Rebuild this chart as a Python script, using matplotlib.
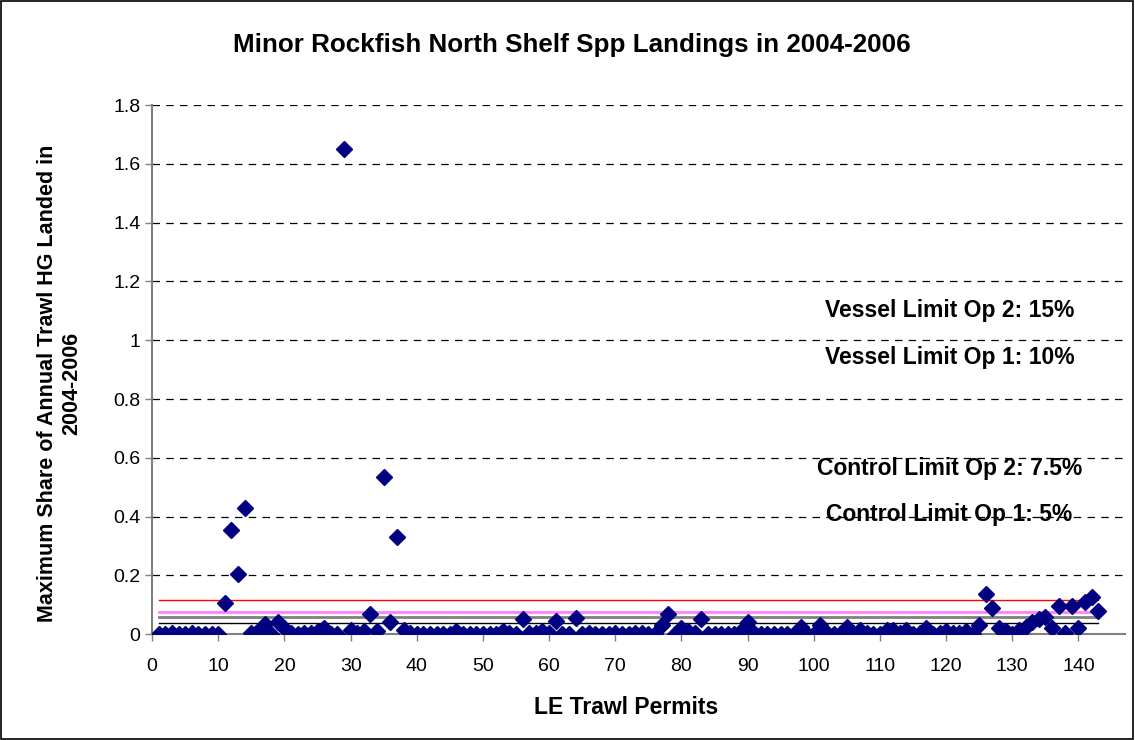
import numpy as np
import matplotlib
matplotlib.use('Agg')
import matplotlib.pyplot as plt
from matplotlib.patches import Rectangle

plt.rcParams['font.family'] = ['Liberation Sans', 'DejaVu Sans']

# Max share of annual trawl HG landed, permit 1..143
share = [0, 0, 0.005, 0, 0, 0.005, 0, 0, 0, 0,
         0.105, 0.355, 0.205, 0.43, 0.005, 0.01, 0.035, 0, 0.04, 0.02,
         0.005, 0, 0.005, 0.005, 0.01, 0.02, 0, 0, 1.65, 0.015,
         0.005, 0.01, 0.07, 0.01, 0.535, 0.04, 0.33, 0.015, 0.005, 0,
         0, 0, 0, 0, 0, 0.01, 0, 0, 0, 0,
         0, 0, 0.01, 0.005, 0, 0.05, 0.005, 0.005, 0.01, 0.005,
         0.045, 0, 0, 0.055, 0, 0.005, 0, 0, 0, 0.005,
         0, 0, 0.005, 0.005, 0, 0, 0.03, 0.07, 0, 0.02,
         0.01, 0.005, 0.05, 0, 0, 0, 0, 0, 0.01, 0.04,
         0.005, 0, 0, 0, 0, 0, 0, 0.025, 0, 0,
         0.03, 0.005, 0, 0, 0.025, 0.005, 0.015, 0.005, 0, 0,
         0.015, 0.015, 0.005, 0.015, 0, 0.005, 0.02, 0, 0.005, 0.01,
         0.005, 0.005, 0.01, 0, 0.03, 0.135, 0.09, 0.02, 0.01, 0,
         0.015, 0.025, 0.04, 0.05, 0.06, 0.02, 0.095, 0.005, 0.095, 0.02,
         0.11, 0.125, 0.08]
permits = np.arange(1, len(share) + 1)

# limit lines as drawn in the chart
limit_vals = [0.117, 0.077, 0.058, 0.037]
limit_cols = ['#FF0000', '#FF80FF', '#808080', '#000000']
limit_lw = [1.0, 2.0, 2.0, 1.0]

labels = ['Vessel Limit Op 2: 15%', 'Vessel Limit Op 1: 10%',
          'Control Limit Op 2: 7.5%', 'Control Limit Op 1: 5%']
label_y = [1.10, 0.94, 0.565, 0.408]

fig = plt.figure(figsize=(11.35, 7.4), dpi=100)
ax = fig.add_axes([0.134, 0.143, 0.857, 0.715])

for v, c, lw in zip(limit_vals, limit_cols, limit_lw):
    ax.plot([permits[0], permits[-1]], [v, v], color=c, lw=lw, zorder=2)

ax.plot(permits, share, linestyle='none', marker='D', ms=8,
        color='#000080', zorder=3)

for t, yv in zip(labels, label_y):
    ax.text(120.5, yv, t, ha='center', va='center', fontsize=16.5,
            fontweight='bold')

ax.set_xlim(0, 147)
ax.set_ylim(0, 1.8)
ax.set_xticks(np.arange(0, 141, 10))
ax.set_yticks(np.arange(0, 1.81, 0.2))
ax.set_yticklabels(['0', '0.2', '0.4', '0.6', '0.8', '1', '1.2', '1.4', '1.6', '1.8'])
for yv in np.arange(0.2, 1.81, 0.2):
    ax.axhline(yv, color='black', lw=0.9, ls=(0, (6, 5)), zorder=1)

for s in ['top', 'right']:
    ax.spines[s].set_visible(False)
for s in ['left', 'bottom']:
    ax.spines[s].set_color('#808080')
    ax.spines[s].set_linewidth(1.5)
ax.tick_params(axis='both', labelsize=14, color='#808080', length=5, width=1)
ax.tick_params(axis='x', pad=12)

ax.set_xlabel('LE Trawl Permits', fontsize=16.5, fontweight='bold')
ax.xaxis.set_label_coords(0.487, -0.117)
ax.set_ylabel('Maximum Share of Annual Trawl HG Landed in\n2004-2006',
              fontsize=15.5, fontweight='bold')
ax.yaxis.set_label_coords(-0.072, 0.474)
fig.text(0.504, 0.939, 'Minor Rockfish North Shelf Spp Landings in 2004-2006',
         ha='center', va='center', fontsize=18.7, fontweight='bold')

fig.patches.append(Rectangle((0.001, 0.001), 0.997, 0.997, transform=fig.transFigure,
                             fill=False, edgecolor='black', lw=1.2))

fig.savefig('out.png', dpi=100)
